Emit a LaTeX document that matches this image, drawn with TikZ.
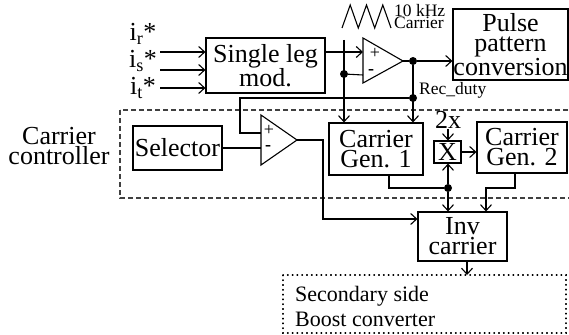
\documentclass[tikz,border=0pt]{standalone}
\usepackage{fontspec}
\setmainfont{Liberation Serif}
\usetikzlibrary{arrows.meta}

\tikzset{
  wire/.style={line width=1.1pt},
  arr/.style={wire, -{Straight Barb[length=6pt,width=11pt,line width=1.1pt]}},
  blk/.style={draw, line width=1.1pt, inner sep=0pt, align=center,
    font=\fontsize{26}{20}\selectfont},
  dot/.style={circle, fill=black, inner sep=0pt, minimum size=8pt},
  sgn/.style={inner sep=0pt, font=\fontsize{18}{18}\selectfont},
  lbl/.style={inner sep=0pt, align=center, font=\fontsize{26}{19.5}\selectfont},
  tiny/.style={inner sep=0pt, align=left, font=\fontsize{17.5}{12.5}\selectfont}
}

\begin{document}
\begin{tikzpicture}[x=1pt, y=-1pt]
    \useasboundingbox (0,0) rectangle (569,334);

    % outer frames
    \draw[wire, black!75, dash pattern=on 5pt off 3pt] (120,110) rectangle (572,198);
    \draw[line width=1.1pt, dash pattern=on 0.8pt off 4pt, line cap=round] (283,275) rectangle (566,333);

    % Define blocks
    \node[blk, minimum width=119pt, minimum height=55pt] (slm) at (265.5,65.5) {Single leg\\mod.};
    \node[blk, minimum width=115pt, minimum height=71pt] (ppc) at (510.5,44.5) {Pulse\\pattern\\conversion};
    \node[blk, minimum width=89pt, minimum height=44pt] (sel) at (177.5,148) {Selector};
    \node[blk, minimum width=94pt, minimum height=52pt] (gen1) at (376,149) {Carrier\\Gen. 1};
    \node[blk, minimum width=90pt, minimum height=51pt] (gen2) at (522,147.5) {Carrier\\Gen. 2};
    \node[blk, minimum width=27pt, minimum height=22pt] (mul) at (447.5,152) {X};
    \node[blk, minimum width=89pt, minimum height=49pt] (inv) at (462.5,236.5) {Inv\\carrier};

    % comparators
    \coordinate (cmpA) at (403,61);
    \coordinate (cmpB) at (297,140);
    \draw[wire, line join=miter] (363,38) -- (cmpA) -- (363,83) -- cycle;
    \draw[wire, line join=miter] (261,115) -- (cmpB) -- (261,165) -- cycle;
    \node[sgn] (pA) at (375,53) {+};
    \node[sgn] (mA) at (371,72) {\textbf{-}};
    \node[sgn] (pB) at (269,130) {+};
    \node[sgn] (mB) at (268,148) {\textbf{-}};
    \coordinate (cApos) at (363,52);
    \coordinate (cAneg) at (363,75);
    \coordinate (cBpos) at (261,133);
    \coordinate (cBneg) at (261,148);

    % labels
    \node[lbl] (ir) at (143,34) {i\textsubscript{r}*};
    \node[lbl] (is) at (143,61) {i\textsubscript{s}*};
    \node[lbl] (it) at (143,88) {i\textsubscript{t}*};
    \node[lbl] (cc) at (59,146) {Carrier\\controller};
    \node[tiny, anchor=north west] (fc) at (394,4) {10 kHz\\Carrier};
    \node[tiny, anchor=base west] (rd) at (419,95) {Rec\_duty};
    \node[lbl] (twox) at (448,120) {2x};
    \node[inner sep=0pt, anchor=west, align=left,
      font=\fontsize{22}{25}\selectfont] (sbc) at (295,306) {Secondary side\\Boost converter};

    % carrier wave
    \draw[wire] (342,28) -- (350.2,5) -- (358.3,28) -- (366.5,5) -- (374.7,28) -- (382.8,5) -- (391,28);

    % input references
    \coordinate (ia) at (160,52);
    \coordinate (ib) at (160,70);
    \coordinate (ic) at (160,88);
    \draw[arr] (ia) -- (slm.west |- ia);
    \draw[arr] (ib) -- (slm.west |- ib);
    \draw[arr] (ic) -- (slm.west |- ic);

    % upper comparator
    \node[dot] (d1) at (344,74) {};
    \node[dot] (d2) at (413,61) {};
    \node[dot] (d3) at (413,98) {};
    \coordinate (cw) at (344,40);
    \draw[arr] (slm.east |- cApos) -- (cApos);
    \draw[arr] (cw) -- (gen1.north -| cw);
    \draw[wire] (d1) -- (cAneg);
    \draw[wire] (cmpA) -- (d2);
    \draw[arr] (d2) -- (ppc.west |- d2);
    \draw[arr] (d2) -- (gen1.north -| d2);

    % duty feedback to lower comparator
    \draw[wire] (d3) -- (240,98) -- (240,133) -- (cBpos);
    \draw[wire] (sel.east) -- (cBneg);
    \draw[arr] (cmpB) -- (323,140) -- (323,219) -- (inv.west |- 0,219);

    % carrier generators
    \node[dot] (d4) at (448,188) {};
    \coordinate (tx) at (448,129);
    \draw[arr] (tx) -- (mul.north -| tx);
    \draw[arr] (mul.east) -- (gen2.west |- mul.east);
    \draw[wire] (gen1.south -| 389,0) -- (389,188) -- (d4);
    \draw[arr] (d4) -- (mul.south -| d4);
    \draw[arr] (d4) -- (inv.north -| d4);
    \draw[arr] (gen2.south -| 515,0) -- (515,188) -- (486,188) -- (inv.north -| 486,0);

    % out to boost converter
    \coordinate (bt) at (467,275);
    \draw[arr] (inv.south -| bt) -- (bt);

\end{tikzpicture}
\end{document}
